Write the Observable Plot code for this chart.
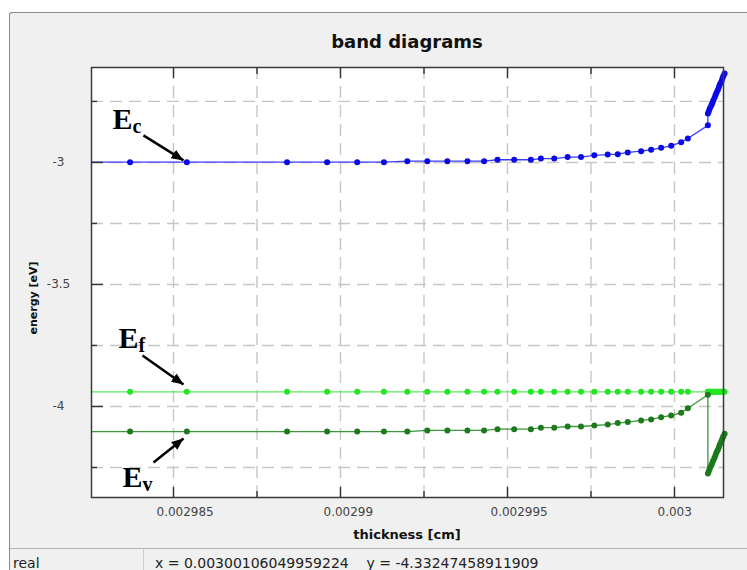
<!DOCTYPE html>
<html><head><meta charset="utf-8">
<script src="https://cdn.jsdelivr.net/npm/d3@7"></script>
<script src="https://cdn.jsdelivr.net/npm/@observablehq/plot@0.6"></script>
<style>
html,body{margin:0;padding:0;background:#fff;}
#wrap{position:relative;width:747px;height:570px;overflow:hidden;font-family:"DejaVu Sans",sans-serif;}
#panel{position:absolute;left:9px;top:12px;width:760px;height:570px;background:#f0f0f0;border-left:1.5px solid #8a8a8a;border-top:1.5px solid #8a8a8a;border-top-left-radius:3px;}
#chart{position:absolute;left:0;top:0;}
#title{position:absolute;left:91px;width:632px;top:33px;text-align:center;font-weight:bold;font-size:18px;line-height:18px;color:#111;}
#ylab{position:absolute;left:33px;top:298px;width:0;height:0;}
#ylab span{position:absolute;transform:translate(-50%,-50%) rotate(-90deg);white-space:nowrap;font-weight:bold;font-size:11px;color:#111;}
#xlab{position:absolute;left:91px;width:632px;top:527px;text-align:center;font-weight:bold;font-size:13px;line-height:16px;color:#111;}
#sep{position:absolute;left:10px;top:548px;width:740px;height:1px;background:#b4b4b4;}
#vsep{position:absolute;left:143px;top:549px;width:1px;height:21px;background:#cfcfcf;}
#real{position:absolute;left:13px;top:555px;font-size:14px;line-height:16px;color:#222;}
#coords{position:absolute;left:155px;top:555px;font-size:14px;line-height:16px;color:#222;white-space:pre;}
</style>
</head><body>
<div id="wrap">
  <div id="panel"></div>
  <div id="chart"></div>
  <div id="title">band diagrams</div>
  <div id="ylab"><span>energy [eV]</span></div>
  <div id="xlab">thickness [cm]</div>
  <div id="sep"></div>
  <div id="vsep"></div>
  <div id="real">real</div>
  <div id="coords">x = 0.00300106049959224    y = -4.33247458911909</div>
</div>
<script>
// thickness mesh [cm]
const thickness = [
  0.0029810,
  0.0029837, 0.0029854, 0.0029884, 0.0029896, 0.0029905, 0.0029913, 0.0029920,
  0.0029926, 0.0029932, 0.0029938, 0.0029943, 0.0029947, 0.0029952, 0.0029957,
  0.0029960, 0.0029964, 0.0029968, 0.0029972, 0.0029976, 0.0029980, 0.0029983,
  0.0029986, 0.0029990, 0.0029993, 0.0029996, 0.0029999, 0.0030002, 0.0030004,
  0.0030010,
  0.00300100, 0.00300103, 0.00300106, 0.00300110, 0.00300113, 0.00300116, 0.00300120, 0.00300123,
  0.00300126, 0.00300130, 0.00300133, 0.00300136, 0.00300140, 0.00300143, 0.00300146, 0.00300150
];
// conduction band Ec [eV]
const Ec = [
  -2.999,
  -2.999, -2.999, -2.999, -2.999, -2.999, -2.999, -2.995,
  -2.995, -2.995, -2.995, -2.995, -2.989, -2.989, -2.989,
  -2.984, -2.984, -2.978, -2.978, -2.971, -2.968, -2.966,
  -2.959, -2.954, -2.948, -2.940, -2.932, -2.917, -2.902,
  -2.848,
  -2.800, -2.789, -2.778, -2.767, -2.757, -2.746, -2.735, -2.724,
  -2.713, -2.702, -2.691, -2.680, -2.669, -2.658, -2.647, -2.636
];
// Fermi level Ef [eV]
const Ef = [
  -3.94,
  -3.94, -3.94, -3.94, -3.94, -3.94, -3.94, -3.94,
  -3.94, -3.94, -3.94, -3.94, -3.94, -3.94, -3.94,
  -3.94, -3.94, -3.94, -3.94, -3.94, -3.94, -3.94,
  -3.94, -3.94, -3.94, -3.94, -3.94, -3.94, -3.94,
  -3.94,
  -3.94, -3.94, -3.94, -3.94, -3.94, -3.94, -3.94, -3.94,
  -3.94, -3.94, -3.94, -3.94, -3.94, -3.94, -3.94, -3.94
];
// valence band Ev [eV]
const Ev = [
  -4.103,
  -4.103, -4.103, -4.103, -4.103, -4.103, -4.103, -4.103,
  -4.098, -4.098, -4.098, -4.098, -4.093, -4.093, -4.093,
  -4.087, -4.087, -4.082, -4.082, -4.078, -4.074, -4.068,
  -4.064, -4.057, -4.053, -4.044, -4.037, -4.026, -4.007,
  -3.952,
  -4.275, -4.264, -4.253, -4.242, -4.232, -4.221, -4.210, -4.199,
  -4.188, -4.177, -4.166, -4.155, -4.144, -4.133, -4.123, -4.112
];
const xMajor = [0.002985, 0.00299, 0.002995, 0.003];
const xMajorLabels = ["0.002985", "0.00299", "0.002995", "0.003"];
const xMinor = [0.0029875, 0.0029925, 0.0029975];
const yMajor = [-3, -3.5, -4];
const yMajorLabels = ["-3", "-3.5", "-4"];
const yMinor = [-2.75, -3.25, -3.75, -4.25];
const xDomain = [0.0029825449, 0.0030014671];
const yDomain = [-4.373, -2.611];

// annotation labels (data coordinates)
const annotations = [
  {E: "E", sub: "c", x: 0.0029831737, y: -2.861, x1: 0.0029841, y1: -2.8893, x2: 0.0029853, y2: -2.9918},
  {E: "E", sub: "f", x: 0.0029833533, y: -3.7623, x1: 0.0029840719, y1: -3.791, x2: 0.0029853, y2: -3.9098},
  {E: "E", sub: "v", x: 0.0029834731, y: -4.332, x1: 0.002984401, y1: -4.2295, x2: 0.0029853, y2: -4.1311}
];

const rows = thickness.map((t, i) => ({t, Ec: Ec[i], Ef: Ef[i], Ev: Ev[i]}));
const visible = rows.filter(d => d.t >= xDomain[0]);
const series = [
  {key: "Ec", line: "#3c3cff", dot: "#0a0ae6"},
  {key: "Ef", line: "#5ae85a", dot: "#22e622"},
  {key: "Ev", line: "#3c963c", dot: "#1c7a1c"}
];
const xGrid = [...xMajor, ...xMinor];
const yGrid = [...yMajor, ...yMinor];
const gridStyle = {stroke: "#c6c6c6", strokeOpacity: 1, strokeWidth: 1.4, strokeDasharray: "12,7"};
const tickStyle = {stroke: "#333", strokeWidth: 1.4, tickFormat: () => "", label: null};

const chart = Plot.plot({
  width: 747, height: 548,
  marginLeft: 91, marginRight: 24, marginTop: 67, marginBottom: 51,
  x: {domain: xDomain},
  y: {domain: yDomain},
  style: {background: "transparent", fontFamily: "DejaVu Sans", overflow: "visible"},
  marks: [
    Plot.frame({fill: "white"}),
    Plot.gridX(xGrid, gridStyle),
    Plot.gridY(yGrid, gridStyle),
    ...series.flatMap(s => [
      Plot.line(rows, {x: "t", y: s.key, stroke: s.line, strokeWidth: 1.3, clip: true}),
      Plot.dot(visible, {x: "t", y: s.key, r: 3, fill: s.dot})
    ]),
    Plot.axisX(xMajor, {anchor: "bottom", tickSize: -10, ...tickStyle}),
    Plot.axisX(xMinor, {anchor: "bottom", tickSize: -6, ...tickStyle}),
    Plot.axisX(xMajor, {anchor: "top", tickSize: -10, ...tickStyle}),
    Plot.axisX(xMinor, {anchor: "top", tickSize: -6, ...tickStyle}),
    Plot.axisY(yMajor, {anchor: "left", tickSize: -12, ...tickStyle}),
    Plot.axisY(yMinor, {anchor: "left", tickSize: -6, ...tickStyle}),
    Plot.axisX(xMajor, {anchor: "bottom", tickSize: 0, tickPadding: 10, tickFormat: d => xMajorLabels[xMajor.indexOf(d)], textAnchor: "start", dx: -17, fontSize: 12, fill: "#444", label: null}),
    Plot.axisY(yMajor, {anchor: "left", tickSize: 0, tickPadding: 33, tickFormat: d => yMajorLabels[yMajor.indexOf(d)], textAnchor: "middle", fontSize: 12, fill: "#444", label: null}),
    Plot.frame({stroke: "#3a3a3a", strokeWidth: 1.5}),
    Plot.link(annotations, {x1: "x1", y1: "y1", x2: "x2", y2: "y2", stroke: "black", strokeWidth: 2.5}),
    Plot.text(annotations, {x: "x", y: "y", text: "E", textAnchor: "start", lineAnchor: "bottom", fontSize: 30, fontWeight: "bold", fontFamily: "Liberation Serif", fill: "black"}),
    Plot.text(annotations, {x: "x", y: "y", text: "sub", dx: 20, dy: 4, textAnchor: "start", lineAnchor: "bottom", fontSize: 20, fontWeight: "bold", fontFamily: "Liberation Serif", fill: "black"})
  ]
});

const svg = d3.select(chart);
const defs = svg.insert("defs", ":first-child");
defs.append("marker")
  .attr("id", "ah").attr("viewBox", "0 0 12 10")
  .attr("refX", 12).attr("refY", 5)
  .attr("markerWidth", 12).attr("markerHeight", 10)
  .attr("markerUnits", "userSpaceOnUse").attr("orient", "auto")
  .append("path").attr("d", "M0,0L12,5L0,10Z").attr("fill", "black");
svg.selectAll('g[aria-label="link"] path').attr("marker-end", "url(#ah)");

document.getElementById("chart").appendChild(chart);
</script>
</body></html>
